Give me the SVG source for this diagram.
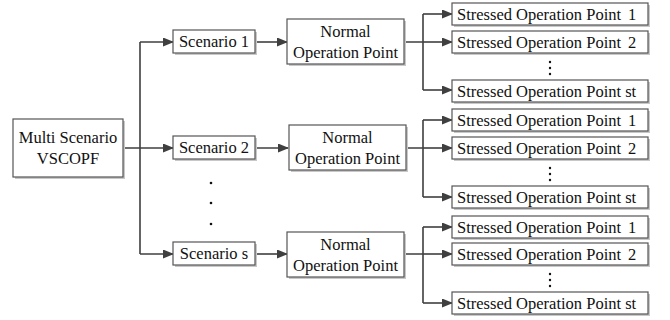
<svg xmlns="http://www.w3.org/2000/svg" width="670" height="320" viewBox="0 0 670 320">
<defs>
<marker id="ah" markerWidth="11" markerHeight="9" refX="10" refY="4.5" orient="auto" markerUnits="userSpaceOnUse">
<path d="M0,0 L11,4.5 L0,9 z" fill="#3f3f3f"/>
</marker>
</defs>
<style>
.box{fill:#fff;stroke:#555;stroke-width:1.2}
.sh{fill:#c8c8c8}
.t{font-family:'Liberation Serif','Times New Roman',serif;font-size:16.5px;fill:#111;text-anchor:middle}
.ts{font-family:'Liberation Serif','Times New Roman',serif;font-size:16.5px;fill:#111}
.c{fill:none;stroke:#3f3f3f;stroke-width:1.6}
.a{marker-end:url(#ah)}
.dot{fill:#111}
</style>
<g id="connectors">
<path class="c" d="M123,148 H140 M140,42 V254"/>
<path class="c a" d="M140,42 H173"/>
<path class="c a" d="M140,148 H173"/>
<path class="c a" d="M140,254 H173"/>
<path class="c a" d="M255,42 H287"/>
<path class="c a" d="M255,148 H288"/>
<path class="c a" d="M255,254 H287"/>
<path class="c" d="M404,42 H423 M423,14 V90"/>
<path class="c a" d="M423,14 H452"/>
<path class="c a" d="M423,42 H452"/>
<path class="c a" d="M423,90 H452"/>
<path class="c" d="M406,148 H423 M423,120 V197"/>
<path class="c a" d="M423,120 H452"/>
<path class="c a" d="M423,148 H452"/>
<path class="c a" d="M423,197 H452"/>
<path class="c" d="M404,254 H423 M423,227 V303"/>
<path class="c a" d="M423,227 H452"/>
<path class="c a" d="M423,254 H452"/>
<path class="c a" d="M423,303 H452"/>
</g>
<g id="multi">
<rect class="sh" x="15" y="121" width="110" height="58"/>
<rect class="box" x="13" y="119" width="110" height="58"/>
<text class="t" x="68" y="143">Multi Scenario</text>
<text class="t" x="68" y="164">VSCOPF</text>
</g>
<g id="scenario1">
<rect class="sh" x="175" y="32" width="82" height="23"/>
<rect class="box" x="173" y="30" width="82" height="23"/>
<text class="t" x="214" y="47">Scenario 1</text>
</g>
<g id="scenario2">
<rect class="sh" x="175" y="138" width="82" height="23"/>
<rect class="box" x="173" y="136" width="82" height="23"/>
<text class="t" x="214" y="153">Scenario 2</text>
</g>
<g id="scenarios">
<rect class="sh" x="175" y="244" width="82" height="23"/>
<rect class="box" x="173" y="242" width="82" height="23"/>
<text class="t" x="214" y="259">Scenario s</text>
</g>
<g id="scenario-dots">
<circle class="dot" cx="211" cy="183" r="1.3"/>
<circle class="dot" cx="211" cy="203" r="1.3"/>
<circle class="dot" cx="211" cy="224" r="1.3"/>
</g>
<g id="normal1">
<rect class="sh" x="289" y="21" width="117" height="45"/>
<rect class="box" x="287" y="19" width="117" height="45"/>
<text class="t" x="345.5" y="37">Normal</text>
<text class="t" x="345.5" y="58">Operation Point</text>
</g>
<g id="normal2">
<rect class="sh" x="291" y="127" width="117" height="45"/>
<rect class="box" x="289" y="125" width="117" height="45"/>
<text class="t" x="347.5" y="143">Normal</text>
<text class="t" x="347.5" y="164">Operation Point</text>
</g>
<g id="normal3">
<rect class="sh" x="289" y="234" width="117" height="45"/>
<rect class="box" x="287" y="232" width="117" height="45"/>
<text class="t" x="345.5" y="250">Normal</text>
<text class="t" x="345.5" y="271">Operation Point</text>
</g>
<g id="s1-1">
<rect class="sh" x="454" y="5" width="196" height="22"/>
<rect class="box" x="452" y="3" width="196" height="22"/>
<text class="ts" x="457" y="19.5">Stressed Operation Point<tspan x="628">1</tspan></text>
</g>
<g id="s1-2">
<rect class="sh" x="454" y="33" width="196" height="22"/>
<rect class="box" x="452" y="31" width="196" height="22"/>
<text class="ts" x="457" y="47.5">Stressed Operation Point<tspan x="628">2</tspan></text>
</g>
<g id="s1-st">
<rect class="sh" x="454" y="82" width="196" height="22"/>
<rect class="box" x="452" y="80" width="196" height="22"/>
<text class="ts" x="457" y="96.5">Stressed Operation Point st</text>
</g>
<g id="s1-dots">
<circle class="dot" cx="550" cy="62" r="1.2"/>
<circle class="dot" cx="550" cy="68" r="1.2"/>
<circle class="dot" cx="550" cy="74" r="1.2"/>
</g>
<g id="s2-1">
<rect class="sh" x="454" y="111" width="196" height="22"/>
<rect class="box" x="452" y="109" width="196" height="22"/>
<text class="ts" x="457" y="125.5">Stressed Operation Point<tspan x="628">1</tspan></text>
</g>
<g id="s2-2">
<rect class="sh" x="454" y="139" width="196" height="22"/>
<rect class="box" x="452" y="137" width="196" height="22"/>
<text class="ts" x="457" y="153.5">Stressed Operation Point<tspan x="628">2</tspan></text>
</g>
<g id="s2-st">
<rect class="sh" x="454" y="188" width="196" height="22"/>
<rect class="box" x="452" y="186" width="196" height="22"/>
<text class="ts" x="457" y="202.5">Stressed Operation Point st</text>
</g>
<g id="s2-dots">
<circle class="dot" cx="550" cy="168" r="1.2"/>
<circle class="dot" cx="550" cy="174" r="1.2"/>
<circle class="dot" cx="550" cy="180" r="1.2"/>
</g>
<g id="s3-1">
<rect class="sh" x="454" y="218" width="196" height="22"/>
<rect class="box" x="452" y="216" width="196" height="22"/>
<text class="ts" x="457" y="232.5">Stressed Operation Point<tspan x="628">1</tspan></text>
</g>
<g id="s3-2">
<rect class="sh" x="454" y="245" width="196" height="22"/>
<rect class="box" x="452" y="243" width="196" height="22"/>
<text class="ts" x="457" y="259.5">Stressed Operation Point<tspan x="628">2</tspan></text>
</g>
<g id="s3-st">
<rect class="sh" x="454" y="294" width="196" height="22"/>
<rect class="box" x="452" y="292" width="196" height="22"/>
<text class="ts" x="457" y="308.5">Stressed Operation Point st</text>
</g>
<g id="s3-dots">
<circle class="dot" cx="550" cy="274" r="1.2"/>
<circle class="dot" cx="550" cy="280" r="1.2"/>
<circle class="dot" cx="550" cy="286" r="1.2"/>
</g>
</svg>
